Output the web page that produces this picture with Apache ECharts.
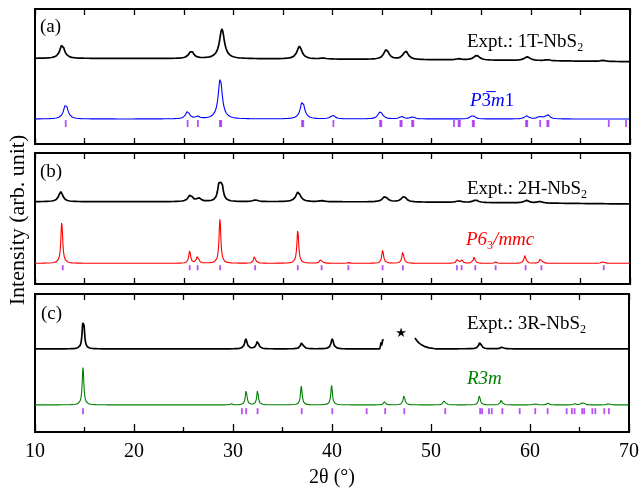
<!DOCTYPE html>
<html>
<head>
<meta charset="utf-8">
<script src="https://cdn.jsdelivr.net/npm/echarts@6/dist/echarts.min.js"></script>
<style>html,body{margin:0;padding:0;background:#fff}#c{width:642px;height:489px}</style>
</head>
<body>
<div id="c"></div>
<script>
// ---------------- DATA ----------------
// x axis tick labels (2θ in degrees)
const xTickLabels = [10, 20, 30, 40, 50, 60, 70];

// Peaks: [2θ position, height (arb.), half width (deg)]
// Backgrounds: [2θ, level (arb.)]
// (a) 1T-NbS2
const exptA_background = [[10, 85.6], [20, 85.5], [30, 85.3], [40, 84.8], [50, 84.2], [60, 83.4], [70, 82.3]];
const exptA_peaks = [[12.74, 14, 0.28], [25.76, 7.7, 0.28], [28.85, 29.7, 0.3], [36.67, 12.7, 0.3], [39.05, 1, 0.3],
  [45.43, 10, 0.3], [47.38, 8.5, 0.3], [52.75, 1.2, 0.3], [54.53, 4.7, 0.35], [59.63, 3.7, 0.35], [61.7, 1, 0.3], [67.3, 1, 0.3]];
const simA_background = [[10, 25], [70, 25]];
const simA_peaks = [[13.1, 15.3, 0.25], [25.39, 7.7, 0.22], [26.4, 2.3, 0.22], [28.68, 40.3, 0.25], [36.97, 18.3, 0.25],
  [40.03, 3.7, 0.25], [44.82, 7.7, 0.25], [46.97, 2.3, 0.25], [48.08, 2, 0.25], [54.13, 3.7, 0.25], [59.57, 3, 0.25],
  [60.9, 2.3, 0.25], [61.68, 4.3, 0.25]];
const braggA = [13.1, 25.39, 26.43, 28.65, 28.78, 36.93, 37.05, 40.09, 44.8, 44.92, 46.85, 46.97, 48.03, 48.15, 52.25,
  52.72, 52.84, 54.14, 54.26, 59.52, 59.64, 60.94, 61.66, 61.78, 67.86, 69.6];

// (b) 2H-NbS2
const exptB_background = [[10, 82.3], [30, 82.3], [40, 82.2], [50, 81.8], [60, 81], [70, 80]];
const exptB_peaks = [[12.6, 10, 0.25], [25.66, 6.7, 0.25], [26.5, 3.4, 0.25], [28.56, 15, 0.18], [28.84, 15, 0.18],
  [32.24, 1.7, 0.3], [36.54, 10, 0.28], [38.9, 1, 0.3], [45.3, 5.5, 0.3], [47.2, 5.5, 0.3], [52.75, 1.5, 0.3],
  [54.43, 2.5, 0.3], [59.57, 2.5, 0.3], [60.9, 1.5, 0.3]];
const simB_background = [[10, 20.7], [70, 20.7]];
const simB_peaks = [[12.7, 41.6, 0.11], [25.6, 12.6, 0.11], [26.4, 8.3, 0.11], [28.65, 44.3, 0.11], [32.14, 7.3, 0.11],
  [36.5, 33.3, 0.11], [38.85, 4.6, 0.11], [41.6, 0.8, 0.11], [45.06, 13.3, 0.11], [47.1, 12.3, 0.11], [52.62, 4.6, 0.11],
  [53.05, 3, 0.11], [54.29, 6, 0.11], [56.45, 1.2, 0.11], [59.4, 8, 0.11], [61.0, 6, 0.11], [67.28, 2.3, 0.11]];
const braggB = [12.8, 25.6, 26.4, 28.67, 32.2, 36.5, 38.9, 41.6, 45.05, 47.1, 52.55, 53.02, 54.4, 56.45, 59.47, 61.07, 67.35];

// (c) 3R-NbS2  (region 45.2–48.4 is not measured: marked with a star)
const exptC_background = [[10, 83.7], [44.85, 83.7], [44.9, 85.5], [44.95, 91.5], [45.0, 87], [45.05, 86.5], [45.1, 92.5],
  [45.15, 93.5], [45.22, 93], [48.38, 94.7], [48.6, 91.5], [48.9, 88.5], [49.3, 86.3], [49.8, 84.7], [50.5, 83.8], [70, 83.7]];
const exptC_gap = [45.23, 48.37];
const exptC_peaks = [[14.82, 18, 0.1], [14.94, 18, 0.1], [31.3, 10, 0.15], [32.48, 7.7, 0.15], [36.97, 7, 0.15],
  [40.03, 10.3, 0.15], [54.96, 7, 0.15], [57.2, 2, 0.15]];
const simC_background = [[10, 27.3], [70, 27.3]];
const simC_peaks = [[14.85, 38, 0.1], [29.8, 1, 0.1], [31.33, 15, 0.1], [32.48, 14.3, 0.1], [36.9, 19, 0.1],
  [39.96, 19.7, 0.1], [45.33, 3.3, 0.1], [47.28, 10.3, 0.1], [51.37, 5.7, 0.1], [54.89, 9.7, 0.1], [57.11, 5.7, 0.1],
  [60.5, 2, 0.1], [61.78, 2.3, 0.1], [64.5, 1.5, 0.1], [65.2, 1.8, 0.1], [65.45, 1.8, 0.1], [67.96, 2.3, 0.1]];
const braggC = [14.85, 30.9, 31.33, 32.48, 36.94, 40.03, 43.5, 45.37, 47.3, 51.44, 54.96, 55.16, 55.86, 56.14, 57.21,
  58.96, 60.53, 61.78, 63.7, 64.23, 64.5, 65.27, 65.47, 66.3, 66.6, 67.5, 67.96];

// ---------------- profile builder ----------------
function bgAt(bg, x) {
  if (x <= bg[0][0]) return bg[0][1];
  for (let i = 1; i < bg.length; i++) {
    if (x <= bg[i][0]) {
      const [x0, y0] = bg[i - 1], [x1, y1] = bg[i];
      return y0 + (y1 - y0) * (x - x0) / (x1 - x0);
    }
  }
  return bg[bg.length - 1][1];
}
function profile(bg, peaks, gap) {
  const xmin = xTickLabels[0], xmax = xTickLabels[xTickLabels.length - 1];
  let xs = [];
  for (let i = 0; i <= 3000; i++) xs.push(xmin + (xmax - xmin) * i / 3000);
  peaks.forEach(p => xs.push(p[0]));
  bg.forEach(p => xs.push(p[0]));
  xs = Array.from(new Set(xs.map(v => +v.toFixed(4)))).sort((a, b) => a - b);
  const out = [];
  let inGap = false;
  xs.forEach(x => {
    if (gap && x > gap[0] && x < gap[1]) {
      if (!inGap) out.push([x, null]);
      inGap = true;
      return;
    }
    inGap = false;
    let y = bgAt(bg, x);
    peaks.forEach(([p, h, w]) => { const d = (x - p) / w; y += h / (1 + d * d); });
    out.push([x, y]);
  });
  return out;
}

// ---------------- layout ----------------
const SERIF = "'Liberation Serif', 'Times New Roman', serif";
const panels = [
  { top: 9, height: 135, expt: [exptA_background, exptA_peaks, null], sim: [simA_background, simA_peaks], simColor: '#0000ff', bragg: braggA, tickMid: 20.5, tickLen: 7 },
  { top: 153, height: 131, expt: [exptB_background, exptB_peaks, null], sim: [simB_background, simB_peaks], simColor: '#ff0000', bragg: braggB, tickMid: 16.3, tickLen: 5 },
  { top: 294, height: 139, expt: [exptC_background, exptC_peaks, exptC_gap], sim: [simC_background, simC_peaks], simColor: '#008000', bragg: braggC, tickMid: 21, tickLen: 6 }
];

const grid = [], xAxis = [], yAxis = [], series = [];
const xmin = xTickLabels[0], xmax = xTickLabels[xTickLabels.length - 1];
panels.forEach((p, i) => {
  grid.push({ left: 35, width: 595, top: p.top, height: p.height, show: true, borderColor: '#000', borderWidth: 2, backgroundColor: 'transparent' });
  const isLast = i === panels.length - 1;
  xAxis.push({
    gridIndex: i, type: 'value', min: xmin, max: xmax, interval: isLast ? 10 : 5, position: 'bottom',
    axisLine: { show: false },
    axisTick: { show: true, inside: true, length: isLast ? 8 : 6, lineStyle: { color: '#000', width: 1.3 } },
    minorTick: { show: isLast, splitNumber: 2, length: 5, lineStyle: { color: '#000', width: 1.3 } },
    axisLabel: { show: isLast, fontFamily: SERIF, fontSize: 20, color: '#000', margin: 10,
      formatter: v => (xTickLabels.indexOf(v) >= 0 ? String(v) : '') },
    splitLine: { show: false },
    name: isLast ? '2θ (°)' : '', nameLocation: 'middle', nameGap: 36,
    nameTextStyle: { fontFamily: SERIF, fontSize: 20, color: '#000' }
  });
  xAxis.push({
    gridIndex: i, type: 'value', min: xmin, max: xmax, interval: 5, position: 'top',
    axisLine: { show: false },
    axisTick: { show: true, inside: true, length: 6, lineStyle: { color: '#000', width: 1.3 } },
    axisLabel: { show: false }, splitLine: { show: false }
  });
  yAxis.push({ gridIndex: i, type: 'value', min: 0, max: p.height, show: false });
  series.push({
    type: 'line', xAxisIndex: 2 * i, yAxisIndex: i, data: profile(p.expt[0], p.expt[1], p.expt[2]),
    showSymbol: false, connectNulls: false, lineStyle: { color: '#000', width: 1.7 }, silent: true, animation: false
  });
  series.push({
    type: 'line', xAxisIndex: 2 * i, yAxisIndex: i, data: profile(p.sim[0], p.sim[1], null),
    showSymbol: false, lineStyle: { color: p.simColor, width: 1.1 }, silent: true, animation: false
  });
  series.push({
    type: 'scatter', xAxisIndex: 2 * i, yAxisIndex: i, data: p.bragg.map(x => [x, p.tickMid]),
    symbol: 'rect', symbolSize: [1.8, p.tickLen], itemStyle: { color: '#a526f0' }, silent: true, animation: false
  });
});

function label(x, y, text, color, extra) {
  return Object.assign({
    type: 'text', x: x, y: y, silent: true,
    style: Object.assign({ text: text, fill: color || '#000', font: '19px ' + SERIF, align: 'left', verticalAlign: 'middle' }, extra || {})
  });
}
const subRich = {
  m: { fontFamily: SERIF, fontSize: 19, lineHeight: 24, verticalAlign: 'middle', color: '#000' },
  s: { fontFamily: SERIF, fontSize: 12, lineHeight: 12, verticalAlign: 'bottom', color: '#000' }
};
const graphic = [
  label(40, 27, '(a)'), label(40, 172, '(b)'), label(41, 314, '(c)'),
  label(467, 42, '{m|Expt.: 1T-NbS}{s|2}', '#000', { rich: subRich }),
  label(467, 189, '{m|Expt.: 2H-NbS}{s|2}', '#000', { rich: subRich }),
  label(467, 324, '{m|Expt.: 3R-NbS}{s|2}', '#000', { rich: subRich }),
  label(470, 101, '{i|P}{r|3\u0305}{i|m}{r|1}', '#0000ff', { rich: {
    i: { fontFamily: SERIF, fontSize: 19, fontStyle: 'italic', color: '#0000ff' },
    r: { fontFamily: SERIF, fontSize: 19, color: '#0000ff' } } }),
  label(466, 240, '{i|P6}{s|3}{i|/mmc}', '#ff0000', { rich: {
    i: { fontFamily: SERIF, fontSize: 19, fontStyle: 'italic', lineHeight: 24, verticalAlign: 'middle', color: '#ff0000' },
    s: { fontFamily: SERIF, fontSize: 12, lineHeight: 12, verticalAlign: 'bottom', color: '#ff0000' } } }),
  label(467, 379, 'R3m', '#008000', { font: 'italic 19px ' + SERIF }),
  label(401, 334, '★', '#000', { font: '13px DejaVu Sans', align: 'center' }),
  { type: 'text', x: 18, y: 220, rotation: Math.PI / 2, silent: true,
    style: { text: 'Intensity (arb. unit)', fill: '#000', font: '22px ' + SERIF, align: 'center', verticalAlign: 'middle' } }
];

const chart = echarts.init(document.getElementById('c'), null, { renderer: 'canvas' });
chart.setOption({ animation: false, backgroundColor: '#fff', grid, xAxis, yAxis, series, graphic });
</script>
</body>
</html>
